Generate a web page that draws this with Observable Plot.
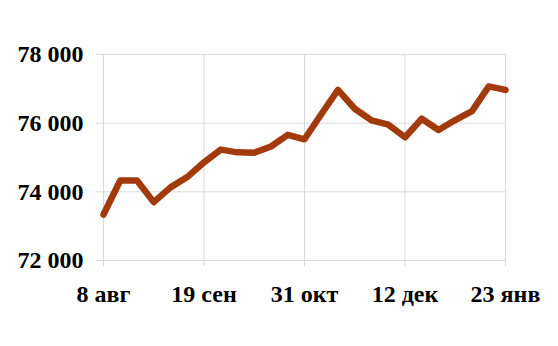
<!DOCTYPE html>
<html><head><meta charset="utf-8">
<script src="https://cdn.jsdelivr.net/npm/d3@7"></script>
<script src="https://cdn.jsdelivr.net/npm/@observablehq/plot@0.6"></script>
<style>body{margin:0;background:#fff}</style>
</head><body><div id="chart"></div>
<script>
const dates = ["2015-08-08","2015-08-15","2015-08-22","2015-08-29","2015-09-05","2015-09-12","2015-09-19","2015-09-26","2015-10-03","2015-10-10","2015-10-17","2015-10-24","2015-10-31","2015-11-07","2015-11-14","2015-11-21","2015-11-28","2015-12-05","2015-12-12","2015-12-19","2015-12-26","2016-01-02","2016-01-09","2016-01-16","2016-01-23"];
const values = [73340,74330,74330,73700,74130,74430,74860,75230,75150,75140,75320,75660,75530,76260,76970,76420,76080,75960,75590,76130,75800,76090,76350,77070,76970];
const yTicks = [72000,74000,76000,78000];
const yTickLabels = ["72 000","74 000","76 000","78 000"];
const xTickDates = ["2015-08-08","2015-09-19","2015-10-31","2015-12-12","2016-01-23"];
const xTickLabels = ["8 авг","19 сен","31 окт","12 дек","23 янв"];

const data = dates.map((d,i)=>({date:new Date(d+"T00:00:00Z"), value:values[i]}));
const xt = xTickDates.map(d=>new Date(d+"T00:00:00Z"));
const xLab = new Map(xt.map((d,i)=>[+d, xTickLabels[i]]));
const yLab = new Map(yTicks.map((d,i)=>[d, yTickLabels[i]]));
const grid = "#d9d9d9";

const chart = Plot.plot({
  width:558, height:346,
  marginLeft:103, marginRight:53, marginTop:54, marginBottom:86,
  x:{type:"utc", domain:[data[0].date, data[data.length-1].date], label:null},
  y:{domain:[72000,78000], label:null},
  style:{fontFamily:"'Liberation Serif', serif", fontWeight:"bold", color:"#000", background:"#fff"},
  marks:[
    Plot.gridY(yTicks,{stroke:grid, strokeOpacity:1}),
    Plot.gridX(xt,{stroke:grid, strokeOpacity:1}),
    Plot.axisY(yTicks,{label:null, tickSize:7, tickPadding:13, stroke:grid, strokeOpacity:1, fontSize:24, fontWeight:"bold", fill:"#000", tickFormat:d=>yLab.get(d)}),
    Plot.axisX(xt,{label:null, tickSize:6, tickPadding:18, stroke:grid, strokeOpacity:1, fontSize:24, fontWeight:"bold", fill:"#000", tickFormat:d=>xLab.get(+d)}),
    Plot.line(data,{x:"date", y:"value", stroke:"#A23A0C", strokeWidth:6.5, strokeLinejoin:"round"})
  ]
});
document.getElementById("chart").appendChild(chart);
</script>
</body></html>
